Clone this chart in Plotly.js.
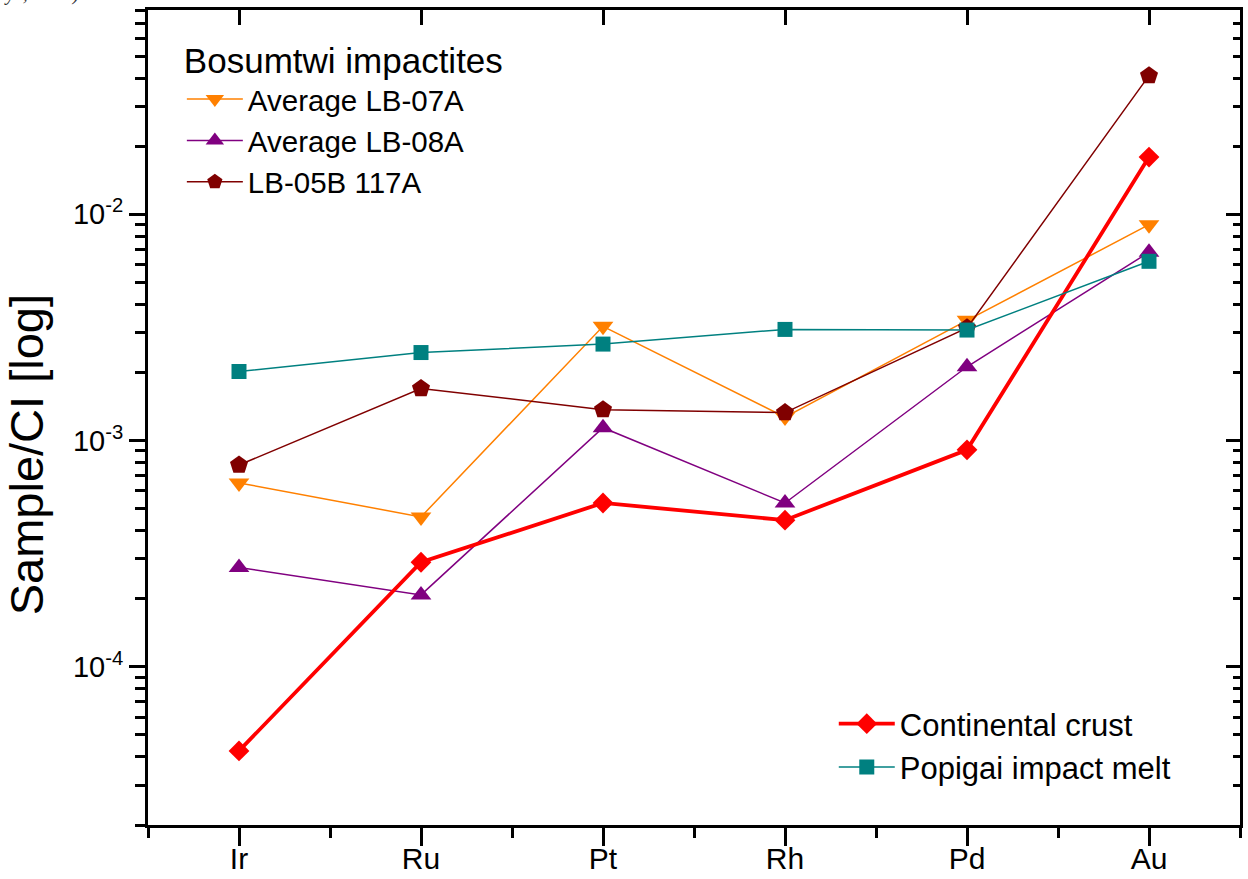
<!DOCTYPE html>
<html>
<head>
<meta charset="utf-8">
<script src="https://cdn.plot.ly/plotly-3.0.1.min.js"></script>
<style>
html,body{margin:0;padding:0;background:#fff;}
#chart{width:1248px;height:879px;}
</style>
</head>
<body>
<div id="chart"></div>
<script>
// ---- data ----
const elements = ['Ir', 'Ru', 'Pt', 'Rh', 'Pd', 'Au'];
const lb07a   = [6.5e-4, 4.6e-4, 3.2e-3, 1.27e-3, 3.4e-3, 9.0e-3];
const lb08a   = [2.75e-4, 2.08e-4, 1.14e-3, 5.3e-4, 2.12e-3, 6.8e-3];
const lb05b   = [7.8e-4, 1.70e-3, 1.37e-3, 1.33e-3, 3.15e-3, 4.1e-2];
const crust   = [4.25e-5, 2.9e-4, 5.3e-4, 4.45e-4, 9.1e-4, 1.79e-2];
const popigai = [2.02e-3, 2.45e-3, 2.67e-3, 3.1e-3, 3.08e-3, 6.2e-3];

const yMajorVals = [1e-4, 1e-3, 1e-2];
const yMajorText = ['10<sup>-4</sup>', '10<sup>-3</sup>', '10<sup>-2</sup>'];
const yMin = 2e-5, yMax = 0.08;

// ---- helpers ----
const FONT = '"Liberation Sans", Arial, sans-serif';
const xIdx = elements.map((_, i) => i);
const xMinor = [];
for (let i = -1; i < elements.length; i++) xMinor.push(i + 0.5);
const yMinor = [];
for (let e = -5; e <= -2; e++) {
  for (let d = 2; d <= 9; d++) {
    const v = d * Math.pow(10, e);
    if (v >= yMin * 0.999 && v <= yMax * 1.001) yMinor.push(v);
  }
}
const yRange = [Math.log10(yMin), Math.log10(yMax)];
const xRange = [-0.5, elements.length - 0.5];

function series(name, y, color, symbol, size, width, legend) {
  return {
    type: 'scatter', mode: 'lines+markers', name: name,
    x: xIdx, y: y,
    line: {color: color, width: width},
    marker: {color: color, symbol: symbol, size: size, line: {width: 0}},
    legend: legend
  };
}

const traces = [
  series('Average LB-07A', lb07a, '#FF8000', 'triangle-down', 18, 1.5, 'legend'),
  series('Average LB-08A', lb08a, '#800080', 'triangle-up', 18, 1.5, 'legend'),
  series('LB-05B 117A', lb05b, '#800000', 'pentagon', 19, 1.5, 'legend'),
  series('Continental crust', crust, '#FF0000', 'diamond', 16, 3.8, 'legend2'),
  series('Popigai impact melt', popigai, '#008080', 'square', 15, 1.5, 'legend2'),
  {type: 'scatter', x: [], y: [], xaxis: 'x2', yaxis: 'y2', showlegend: false, hoverinfo: 'skip'},
  {type: 'scatter', x: [], y: [], xaxis: 'x3', yaxis: 'y', showlegend: false, hoverinfo: 'skip'}
];

const layout = {
  width: 1248, height: 879,
  margin: {l: 148, r: 8, t: 10, b: 54},
  paper_bgcolor: '#fff', plot_bgcolor: '#fff',
  font: {family: FONT, color: '#000', size: 28},
  showlegend: true,
  xaxis: {
    range: xRange, tickmode: 'array', tickvals: xIdx, showticklabels: false,
    ticks: 'outside', ticklen: 18, tickwidth: 3, tickcolor: '#000',
    showline: true, linewidth: 3, linecolor: '#000',
    showgrid: false, zeroline: false,
    minor: {tickmode: 'array', tickvals: xMinor, ticks: 'outside', ticklen: 10, tickwidth: 3, tickcolor: '#000', showgrid: false}
  },
  xaxis3: {
    overlaying: 'x', anchor: 'y', side: 'bottom', range: xRange,
    tickmode: 'array', tickvals: xIdx, ticktext: elements,
    ticks: '', showline: false, showgrid: false, zeroline: false,
    ticklabelstandoff: 13,
    tickfont: {size: 30, family: FONT}
  },
  xaxis2: {
    overlaying: 'x', side: 'top', range: xRange,
    tickmode: 'array', tickvals: xIdx, showticklabels: false,
    ticks: 'inside', ticklen: 15, tickwidth: 3, tickcolor: '#000',
    showline: true, linewidth: 3, linecolor: '#000',
    showgrid: false, zeroline: false
  },
  yaxis: {
    type: 'log', range: yRange,
    tickmode: 'array', tickvals: yMajorVals, ticktext: yMajorText,
    ticks: 'outside', ticklen: 16, tickwidth: 3, tickcolor: '#000',
    showline: true, linewidth: 3, linecolor: '#000',
    showgrid: false, zeroline: false,
    tickfont: {size: 29, family: FONT},
    minor: {tickmode: 'array', tickvals: yMinor, ticks: 'outside', ticklen: 10, tickwidth: 3, tickcolor: '#000', showgrid: false}
  },
  yaxis2: {
    type: 'log', range: yRange, overlaying: 'y', side: 'right',
    tickmode: 'array', tickvals: yMajorVals, showticklabels: false,
    ticks: 'inside', ticklen: 14, tickwidth: 3, tickcolor: '#000',
    showline: true, linewidth: 3, linecolor: '#000',
    showgrid: false, zeroline: false,
    minor: {tickmode: 'array', tickvals: yMinor, ticks: 'inside', ticklen: 7, tickwidth: 3, tickcolor: '#000', showgrid: false}
  },
  legend: {
    x: 0.031, y: 0.978, xanchor: 'left', yanchor: 'top',
    title: {text: 'Bosumtwi impactites', font: {size: 35, family: FONT}},
    font: {size: 29.5, family: FONT},
    bgcolor: 'rgba(0,0,0,0)', borderwidth: 0,
    itemsizing: 'trace', itemwidth: 56, tracegroupgap: 0
  },
  legend2: {
    x: 0.628, y: 0.157, xanchor: 'left', yanchor: 'top',
    font: {size: 31, family: FONT},
    bgcolor: 'rgba(0,0,0,0)', borderwidth: 0,
    itemsizing: 'trace', itemwidth: 56, tracegroupgap: 0
  },
  annotations: [
    {
      text: 'Sample/CI [log]', xref: 'paper', yref: 'paper',
      x: -0.1105, y: 0.454, xanchor: 'center', yanchor: 'middle',
      textangle: -90, showarrow: false,
      font: {family: FONT, size: 47, color: '#000'}
    },
    {
      text: 'ys, 1983).', xref: 'paper', yref: 'paper',
      x: -0.134, y: 1.004, xanchor: 'left', yanchor: 'bottom',
      showarrow: false,
      font: {family: '"Liberation Serif", "Times New Roman", serif', size: 20, color: '#333', style: 'italic'}
    }
  ]
};

Plotly.newPlot('chart', traces, layout, {displayModeBar: false, staticPlot: true});
</script>
</body>
</html>
